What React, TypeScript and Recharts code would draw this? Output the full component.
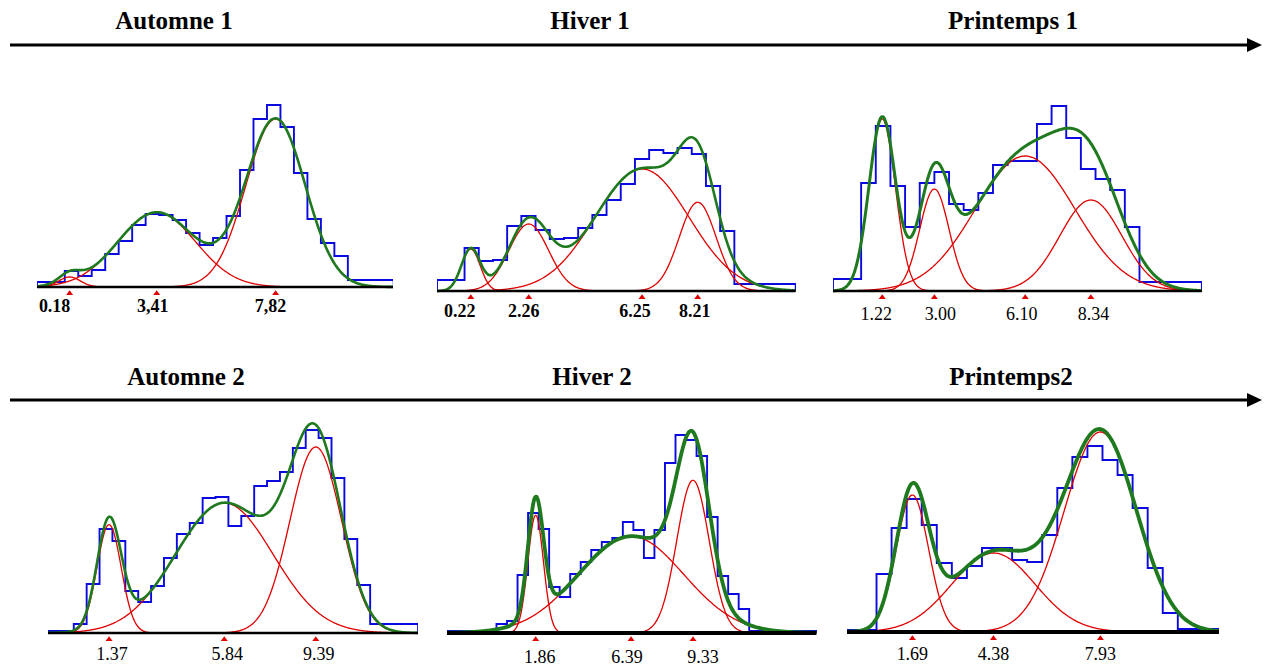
import React from "react";
import { ComposedChart, Line, XAxis, YAxis } from "recharts";

const PLOT_H = 220;
const AXIS_H = 36;
const FONT = '"Liberation Serif", "Times New Roman", serif';
const BLUE = "#0a0ae0";
const RED = "#e00000";
const GREEN = "#1f7a1f";

// Automne 1
const a1Domain = [-1.03, 12.2];
const a1Edges = [-1.03, 0, 0.5, 1, 1.5, 2, 2.5, 3, 3.5, 4, 4.5, 5, 5.5, 6, 6.5, 7, 7.5, 8, 8.5, 9, 9.5, 10, 10.5, 12.2];
const a1Counts = [5, 16, 11, 17, 33, 46, 62, 73, 72, 67, 54, 42, 49, 71, 117, 168, 182, 160, 114, 68, 44, 31, 7];
const a1Means = [0.18, 3.41, 7.82];
const a1Labels = ["0.18", "3,41", "7,82"];
const a1Heights = [10, 74.7, 168];
const a1Sigmas = [0.4, 1.44, 1.1];

// Hiver 1
const h1Domain = [-0.97, 11.66];
const h1Edges = [-0.97, 0, 0.5, 1, 1.5, 2, 2.5, 3, 3.5, 4, 4.5, 5, 5.5, 6, 6.5, 7, 7.5, 8, 8.5, 9, 9.5, 11.66];
const h1Counts = [11, 43, 30, 31, 65, 75, 61, 52, 53, 63, 76, 91, 107, 132, 141, 138, 143, 137, 105, 60, 7];
const h1Means = [0.22, 2.26, 6.25, 8.21];
const h1Labels = ["0.22", "2.26", "6.25", "8.21"];
const h1Heights = [42, 67, 122, 88.7];
const h1Sigmas = [0.33, 0.7, 1.65, 0.65];

// Printemps 1
const p1Domain = [-0.46, 12.13];
const p1Edges = [-0.46, 0.5, 1, 1.5, 2, 2.5, 3, 3.5, 4, 4.5, 5, 5.5, 6, 6.5, 7, 7.5, 8, 8.5, 9, 9.5, 10, 12.13];
const p1Counts = [12, 108, 165, 105, 64, 108, 119, 87, 81, 98, 126, 130, 130, 167, 185, 153, 122, 112, 101, 64, 9];
const p1Means = [1.22, 3.0, 6.1, 8.34];
const p1Labels = ["1.22", "3.00", "6.10", "8.34"];
const p1Heights = [172, 102, 135, 91];
const p1Sigmas = [0.45, 0.5, 1.7, 1.06];

// Automne 2
const a2Domain = [-1.0, 13.36];
const a2Edges = [-1, 0, 0.5, 1, 1.5, 2, 2.5, 3, 3.5, 4, 4.5, 5, 5.5, 6, 6.5, 7, 7.5, 8, 8.5, 9, 9.5, 10, 10.5, 11, 11.5, 13.36];
const a2Counts = [2, 9, 49, 104, 92, 42, 31, 47, 75, 99, 110, 135, 136, 107, 117, 147, 152, 161, 185, 203, 195, 155, 94, 48, 9];
const a2Means = [1.37, 5.84, 9.39];
const a2Labels = ["1.37", "5.84", "9.39"];
const a2Heights = [108.3, 130, 186];
const a2Sigmas = [0.47, 1.89, 1.0];

// Hiver 2
const h2Domain = [-2.35, 15.19];
const h2Edges = [-2.35, 0, 0.5, 1, 1.5, 2, 2.5, 3, 3.5, 4, 4.5, 5, 5.5, 6, 6.5, 7, 7.5, 8, 8.5, 9, 9.5, 10, 10.5, 11, 11.5, 12, 15.19];
const h2Counts = [2, 9, 12, 58, 120, 104, 46, 36, 59, 71, 83, 91, 95, 111, 103, 75, 103, 170, 198, 193, 177, 116, 57, 39, 24, 2];
const h2Means = [1.86, 6.39, 9.33];
const h2Labels = ["1.86", "6.39", "9.33"];
const h2Heights = [117.7, 96.7, 152.7];
const h2Sigmas = [0.37, 2.5, 0.77];

// Printemps2
const p2Domain = [-0.48, 11.89];
const p2Edges = [-0.48, 0.5, 1, 1.5, 2, 2.5, 3, 3.5, 4, 4.5, 5, 5.5, 6, 6.5, 7, 7.5, 8, 8.5, 9, 9.5, 10, 10.5, 11.89];
const p2Counts = [2, 58, 104, 133, 107, 69, 54, 66, 84, 84, 72, 70, 97, 144, 175, 186, 172, 157, 124, 64, 19, 3];
const p2Means = [1.69, 4.38, 7.93];
const p2Labels = ["1.69", "4.38", "7.93"];
const p2Heights = [137, 79, 200];
const p2Sigmas = [0.54, 1.38, 1.2];

const titles = ["Automne 1", "Hiver 1", "Printemps 1", "Automne 2", "Hiver 2", "Printemps2"];
const titleX = [174, 590, 1013, 186, 592, 1011];
const titleY = [29, 29, 29, 385, 385, 385];
const arrowY = [45, 400];

const panels = [
  { id: "a1", domain: a1Domain, edges: a1Edges, counts: a1Counts, means: a1Means, labels: a1Labels, heights: a1Heights, sigmas: a1Sigmas,
    left: 36.7, width: 356.7, baseline: 287.3, labelDx: [-15, -4, -5], labelDy: 25.4, bold: true, greenW: 2.6, axisW: 2.5 },
  { id: "h1", domain: h1Domain, edges: h1Edges, counts: h1Counts, means: h1Means, labels: h1Labels, heights: h1Heights, sigmas: h1Sigmas,
    left: 437.3, width: 358.7, baseline: 291, labelDx: [-11, -5, -7, -3], labelDy: 25.7, bold: true, greenW: 2.6, axisW: 2.5 },
  { id: "p1", domain: p1Domain, edges: p1Edges, counts: p1Counts, means: p1Means, labels: p1Labels, heights: p1Heights, sigmas: p1Sigmas,
    left: 832.8, width: 368.9, baseline: 290.7, labelDx: [-6, 6, -3.5, 2.6], labelDy: 28.6, bold: false, greenW: 3, axisW: 2.5 },
  { id: "a2", domain: a2Domain, edges: a2Edges, counts: a2Counts, means: a2Means, labels: a2Labels, heights: a2Heights, sigmas: a2Sigmas,
    left: 48.2, width: 370.1, baseline: 633.3, labelDx: [3, 3, 3], labelDy: 27.5, bold: false, greenW: 2.6, axisW: 2.5 },
  { id: "h2", domain: h2Domain, edges: h2Edges, counts: h2Counts, means: h2Means, labels: h2Labels, heights: h2Heights, sigmas: h2Sigmas,
    left: 447.3, width: 369.4, baseline: 632.7, labelDx: [4, -4, 10], labelDy: 30, bold: false, greenW: 3.8, axisW: 4 },
  { id: "p2", domain: p2Domain, edges: p2Edges, counts: p2Counts, means: p2Means, labels: p2Labels, heights: p2Heights, sigmas: p2Sigmas,
    left: 846.6, width: 372.7, baseline: 631.7, labelDx: [0, 0, 0], labelDy: 28.3, bold: false, greenW: 3.8, axisW: 4 },
];

type Panel = (typeof panels)[number];

const gauss = (x: number, m: number, h: number, s: number) => h * Math.exp(-((x - m) ** 2) / (2 * s * s));

function histPoints(edges: number[], counts: number[]) {
  const pts = [{ x: edges[0], y: 0 }];
  counts.forEach((c, i) => pts.push({ x: edges[i], y: c }));
  const last = edges[edges.length - 1];
  pts.push({ x: last, y: counts[counts.length - 1] });
  pts.push({ x: last, y: 0 });
  return pts;
}

function curve(p: Panel, from: number, to: number, f: (x: number) => number) {
  const step = (p.domain[1] - p.domain[0]) / 400;
  const pts = [];
  for (let x = from; x <= to + 1e-9; x += step) pts.push({ x, y: f(x) });
  return pts;
}

function componentPoints(p: Panel, i: number) {
  const m = p.means[i];
  const s = p.sigmas[i];
  const from = Math.max(p.domain[0], m - 3.8 * s);
  const to = Math.min(p.domain[1], m + 3.8 * s);
  return curve(p, from, to, (x) => gauss(x, m, p.heights[i], s));
}

function sumPoints(p: Panel) {
  return curve(p, p.domain[0], p.domain[1], (x) =>
    p.means.reduce((acc, m, i) => acc + gauss(x, m, p.heights[i], p.sigmas[i]), 0)
  );
}

const makeTick = (p: Panel) => (props: any) => {
  const { x, y, payload } = props;
  const i = p.means.indexOf(payload.value);
  return (
    <g>
      <polygon points={`${x - 3.5},${y + 8} ${x + 3.5},${y + 8} ${x},${y + 3.3}`} fill={RED} />
      <text x={x + (p.labelDx[i] || 0)} y={y + p.labelDy} textAnchor="middle" fontFamily={FONT}
        fontSize={18} fontWeight={p.bold ? 700 : 400} fill="#000">
        {p.labels[i]}
      </text>
    </g>
  );
};

function MixturePanel({ p }: { p: Panel }) {
  return (
    <div style={{ position: "absolute", left: p.left, top: p.baseline - PLOT_H }}>
      <ComposedChart width={p.width} height={PLOT_H + AXIS_H} margin={{ top: 0, right: 0, bottom: 0, left: 0 }}>
        <XAxis type="number" dataKey="x" domain={p.domain} ticks={p.means} interval={0}
          tickSize={0} tickMargin={0} tickLine={false} height={AXIS_H}
          axisLine={{ stroke: "#000", strokeWidth: p.axisW }} tick={makeTick(p)} />
        <YAxis type="number" domain={[0, PLOT_H]} hide />
        <Line data={histPoints(p.edges, p.counts)} dataKey="y" type="stepAfter" stroke={BLUE}
          strokeWidth={1.9} dot={false} activeDot={false} isAnimationActive={false} />
        {p.means.map((m, i) => (
          <Line key={`${p.id}-c${i}`} data={componentPoints(p, i)} dataKey="y" type="monotone"
            stroke={RED} strokeWidth={1.3} dot={false} activeDot={false} isAnimationActive={false} />
        ))}
        <Line data={sumPoints(p)} dataKey="y" type="monotone" stroke={GREEN} strokeWidth={p.greenW}
          dot={false} activeDot={false} isAnimationActive={false} />
      </ComposedChart>
    </div>
  );
}

export default function App() {
  return (
    <div style={{ position: "absolute", left: 0, top: 0, width: 1267, height: 668, background: "#fff" }}>
      <svg width={1267} height={668} style={{ position: "absolute", left: 0, top: 0 }}>
        {arrowY.map((y) => (
          <g key={y}>
            <line x1={10} y1={y} x2={1250} y2={y} stroke="#000" strokeWidth={3} />
            <polygon points={`1247,${y - 7} 1262,${y} 1247,${y + 7}`} fill="#000" />
          </g>
        ))}
        {titles.map((t, i) => (
          <text key={t} x={titleX[i]} y={titleY[i]} textAnchor="middle" fontFamily={FONT}
            fontSize={25} fontWeight={700} fill="#000">
            {t}
          </text>
        ))}
      </svg>
      {panels.map((p) => (
        <MixturePanel key={p.id} p={p} />
      ))}
    </div>
  );
}
